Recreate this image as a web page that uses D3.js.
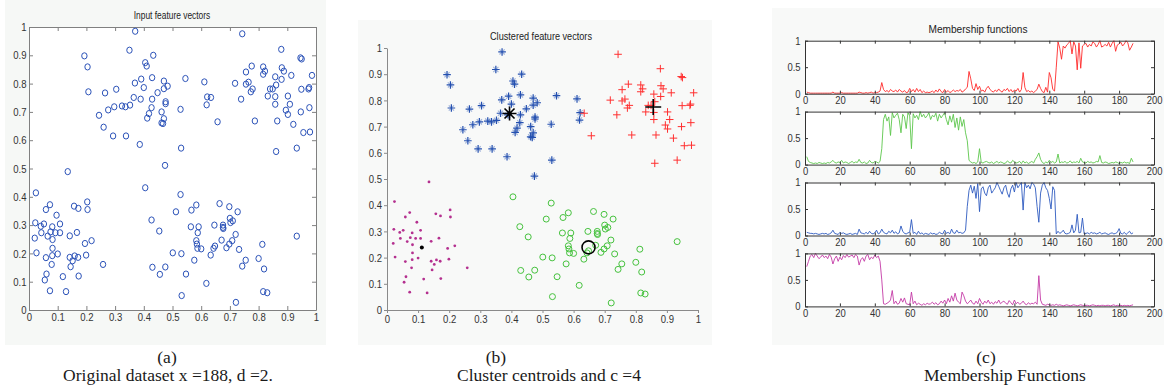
<!DOCTYPE html>
<html>
<head>
<meta charset="utf-8">
<script src="https://cdn.jsdelivr.net/npm/d3@7"></script>
<style>
  body { margin: 0; background: #fff; }
  svg { display: block; }
  .tick text { font-family: "Liberation Sans", Arial, sans-serif; fill: #333; }
  .ttl { font-family: "Liberation Sans", Arial, sans-serif; fill: #222; }
  .cap { font-family: "Liberation Serif", "Times New Roman", serif; fill: #1a1a1a; font-size: 17.5px; }
</style>
</head>
<body>
<svg id="fig" width="1164" height="392"></svg>
<script>
// feature vectors, grouped by the cluster they get in panel (b)
const magentaPts = [[0.024,0.414],[0.135,0.489],[0.022,0.308],[0.020,0.254],[0.026,0.202],[0.041,0.296],[0.043,0.273],[0.052,0.304],[0.055,0.106],[0.059,0.355],[0.059,0.185],[0.061,0.127],[0.065,0.261],[0.073,0.372],[0.073,0.068],[0.075,0.276],[0.081,0.294],[0.082,0.249],[0.082,0.218],[0.079,0.161],[0.081,0.192],[0.092,0.273],[0.096,0.335],[0.100,0.198],[0.108,0.304],[0.108,0.273],[0.118,0.118],[0.129,0.065],[0.142,0.262],[0.142,0.186],[0.145,0.153],[0.152,0.174],[0.157,0.367],[0.159,0.191],[0.167,0.274],[0.172,0.359],[0.171,0.186],[0.173,0.120],[0.195,0.235],[0.199,0.194],[0.203,0.382],[0.204,0.355],[0.218,0.245],[0.258,0.161]];
const greenPts = [[0.405,0.432],[0.427,0.318],[0.430,0.151],[0.454,0.279],[0.456,0.126],[0.475,0.152],[0.501,0.202],[0.512,0.347],[0.528,0.408],[0.531,0.199],[0.532,0.051],[0.547,0.127],[0.566,0.353],[0.564,0.294],[0.576,0.176],[0.583,0.371],[0.583,0.245],[0.585,0.233],[0.588,0.273],[0.591,0.294],[0.587,0.218],[0.600,0.216],[0.618,0.094],[0.633,0.194],[0.646,0.300],[0.643,0.218],[0.648,0.226],[0.664,0.376],[0.671,0.247],[0.676,0.300],[0.676,0.292],[0.677,0.288],[0.688,0.220],[0.698,0.365],[0.698,0.233],[0.700,0.324],[0.702,0.309],[0.710,0.315],[0.708,0.245],[0.720,0.267],[0.727,0.347],[0.721,0.027],[0.732,0.214],[0.743,0.155],[0.755,0.176],[0.800,0.182],[0.813,0.232],[0.819,0.145],[0.816,0.065],[0.830,0.061],[0.933,0.261]];
const bluePts = [[0.193,0.898],[0.204,0.859],[0.207,0.771],[0.244,0.688],[0.260,0.646],[0.265,0.767],[0.276,0.707],[0.293,0.615],[0.297,0.718],[0.304,0.780],[0.324,0.721],[0.336,0.718],[0.338,0.615],[0.350,0.918],[0.352,0.724],[0.365,0.751],[0.369,0.802],[0.370,0.985],[0.386,0.585],[0.389,0.745],[0.391,0.816],[0.400,0.786],[0.405,0.874],[0.410,0.862],[0.412,0.678],[0.418,0.694],[0.427,0.715],[0.429,0.745],[0.429,0.821],[0.433,0.900],[0.448,0.768],[0.462,0.700],[0.462,0.661],[0.467,0.659],[0.470,0.676],[0.470,0.809],[0.470,0.782],[0.476,0.736],[0.476,0.729],[0.483,0.791],[0.474,0.511],[0.528,0.709],[0.530,0.572],[0.545,0.818],[0.611,0.806],[0.619,0.725],[0.621,0.753]];
const redPts = [[0.634,0.751],[0.657,0.665],[0.718,0.801],[0.739,0.745],[0.743,0.976],[0.756,0.841],[0.756,0.798],[0.765,0.805],[0.773,0.771],[0.776,0.862],[0.779,0.781],[0.787,0.668],[0.816,0.859],[0.816,0.833],[0.822,0.844],[0.832,0.756],[0.840,0.781],[0.849,0.781],[0.858,0.824],[0.858,0.754],[0.858,0.727],[0.861,0.795],[0.861,0.560],[0.865,0.668],[0.879,0.921],[0.880,0.815],[0.881,0.856],[0.888,0.844],[0.895,0.706],[0.902,0.691],[0.902,0.756],[0.909,0.727],[0.914,0.829],[0.921,0.656],[0.933,0.572],[0.946,0.891],[0.950,0.887],[0.947,0.700],[0.949,0.780],[0.956,0.627],[0.974,0.781],[0.976,0.786],[0.977,0.715],[0.979,0.629],[0.986,0.829]];

// cluster centres in panel (b)
const centreStar = [0.394, 0.750];   // blue cluster
const centrePlus = [0.856, 0.775];   // red cluster
const centreRing = [0.648, 0.239];   // green cluster
const centreDot  = [0.112, 0.239];   // magenta cluster

// membership of each of the 188 vectors (index 1..188)
const memRed = [.03,.02,.01,.01,.01,.01,.01,.01,.01,.01, .01,.01,.01,.01,.01,.03,.01,.01,.01,.01, .02,.01,.01,.01,.01,.01,.01,.01,.01,.01, .03,.02,.01,.01,.02,.01,.02,.03,.01,.02,
  .02,.03,.05,.21,.08,.04,.06,.03,.08,.05, .04,.07,.03,.08,.05,.03,.06,.02,.03,.1, .04,.08,.03,.1,.04,.08,.02,.05,.02,.03, .02,.03,.05,.02,.07,.03,.09,.04,.02,.08,
  .03,.06,.02,.04,.07,.04,.06,.05,.08,.03, .05,.09,.12,.42,.28,.1,.06,.19,.08,.14, .05,.07,.03,.1,.14,.08,.05,.03,.07,.04, .09,.05,.03,.08,.06,.1,.04,.08,.03,.07,
  .05,.1,.03,.08,.4,.12,.04,.06,.03,.05, .02,.05,.08,.18,.1,.04,.02,.12,.03,.4, .3,.08,.05,.5,.98,.86,.65,.9,.86,.92, .95,1,.75,.98,.9,.45,.96,.48,.9,.93,
  .95,.88,.93,.9,.98,.95,.88,.93,1,.88, .9,.93,.9,.97,.88,.95,1,.8,.92,.94, .97,.9,.94,1,.96,.82,.88,.95];
const memGreen = [.15,.06,.04,.03,.02,.03,.02,.04,.03,.02, .03,.02,.04,.03,.05,.08,.04,.03,.05,.04, .08,.03,.05,.04,.02,.04,.06,.03,.05,.04, .1,.04,.03,.05,.02,.03,.08,.04,.03,.06,
  .05,.03,.06,.3,.85,.95,.82,.9,.55,.98, .88,.93,.97,.85,.6,.95,.9,.68,.98,.92, .3,.96,.88,.93,.85,1,.9,.95,.88,.92, .98,.85,.93,.9,.97,.82,.95,.88,.93,.98,
  .85,.75,.92,.8,.95,.7,.88,.65,.9,.72, .85,.6,.45,.08,.05,.03,.04,.02,.05,.3, .04,.03,.05,.06,.04,.03,.05,.02,.04,.06, .03,.05,.04,.02,.03,.07,.04,.03,.08,.05,
  .03,.04,.06,.02,.07,.03,.05,.02,.04,.06, .03,.1,.15,.22,.1,.04,.02,.05,.03,.08, .04,.06,.03,.05,.2,.03,.05,.04,.06,.03, .04,.07,.03,.05,.04,.06,.03,.12,.05,.04,
  .03,.06,.04,.05,.03,.04,.06,.05,.17,.04, .03,.05,.04,.02,.03,.04,.03,.05,.04,.02, .04,.03,.05,.03,.04,.02,.12,.05];
const memBlue = [.06,.05,.04,.04,.03,.04,.03,.02,.03,.04, .03,.04,.02,.03,.05,.1,.04,.03,.02,.06, .04,.05,.03,.02,.03,.04,.02,.03,.04,.02, .12,.05,.04,.03,.06,.03,.08,.04,.03,.05,
  .1,.03,.05,.12,.06,.04,.03,.08,.05,.1, .04,.07,.03,.05,.18,.08,.04,.03,.05,.06, .3,.04,.06,.02,.08,.03,.05,.02,.04,.03, .02,.05,.03,.04,.02,.03,.06,.04,.03,.1,
  .04,.06,.03,.12,.05,.04,.1,.05,.06,.04, .05,.1,.55,.85,.95,.8,.93,.7,.98,.45, .88,.92,.8,.75,.9,.95,.8,.85,.9,1, .93,.85,.78,.9,.95,.8,.72,.88,.95,.82,
  1,.9,.95,1,.48,1,.9,.95,.88,1, .97,.9,.55,.25,.8,.95,1,.9,.85,.7, .5,.92,.85,.03,.08,.04,.06,.1,.04,.03, .04,.06,.2,.05,.1,.4,.05,.06,.33,.03,
  .04,.05,.03,.06,.04,.05,.03,.04,.06,.03, .04,.05,.03,.02,.04,.05,.03,.04,.06,.13, .04,.03,.06,.02,.05,.08,.03,.05];
const memMagenta = [.75,.85,.95,.98,.92,1,.95,.9,.93,.97, .92,.95,.9,.98,.93,.8,.9,.95,.85,.93, .88,.96,.92,.98,.93,.95,.97,.92,.98,.95, .78,.88,.92,.85,.95,.98,.88,.93,.9,.97,
  .92,.95,.85,.5,.05,.04,.06,.08,.12,.3, .05,.1,.04,.06,.15,.08,.16,.05,.04,.03, .27,.05,.1,.03,.06,.04,.02,.05,.03,.06, .04,.05,.08,.04,.07,.03,.05,.1,.06,.12,
  .05,.15,.08,.2,.1,.25,.12,.08,.05,.27, .2,.1,.05,.08,.12,.06,.04,.1,.05,.15, .08,.04,.1,.06,.12,.05,.08,.04,.09,.06, .12,.05,.08,.1,.06,.04,.11,.07,.03,.12,
  .05,.08,.04,.06,.1,.05,.03,.07,.04,.06, .05,.08,.04,.58,.12,.04,.03,.02,.04,.03, .02,.03,.02,.04,.02,.03,.02,.01,.02,.03, .02,.01,.02,.03,.02,.01,.02,.03,.02,.01,
  .02,.02,.01,.02,.03,.02,.01,.02,.01,.02, .02,.01,.02,.02,.01,.02,.03,.01,.02,.01, .02,.01,.02,.01,.02,.01,.02,.03];

const unitTicks = [0,0.1,0.2,0.3,0.4,0.5,0.6,0.7,0.8,0.9,1];
const memXTicks = [0,20,40,60,80,100,120,140,160,180,200];
const memYTicks = [0,0.5,1];

const svg = d3.select("#fig");
const fmt = d => String(+d.toFixed(1));

// light figure backgrounds
svg.append("rect").attr("x", 5).attr("y", 0).attr("width", 321).attr("height", 345).attr("fill", "#f6f8f6");
svg.append("rect").attr("x", 358).attr("y", 20).attr("width", 354).attr("height", 325).attr("fill", "#f8f9f8");
svg.append("rect").attr("x", 772).attr("y", 8).attr("width", 392).attr("height", 337).attr("fill", "#f8f9f8");

function styleAxis(g, col, size, sx) {
  g.select(".domain").attr("stroke", col);
  g.selectAll(".tick line").attr("stroke", col);
  g.selectAll("text").attr("font-size", size).attr("transform", `scale(${sx},1)`);
}

// narrow-ish title: squeeze horizontally like the original rendering
function title(x, y, size, sx, txt) {
  svg.append("text").attr("class", "ttl")
    .attr("transform", `translate(${x},${y}) scale(${sx},1)`)
    .attr("text-anchor", "middle").attr("font-size", size).text(txt);
}

// ---------- (a) input feature vectors ----------
const xA = d3.scaleLinear().domain([0, 1]).range([29, 316]);
const yA = d3.scaleLinear().domain([0, 1]).range([310, 27]);
svg.append("rect").attr("x", 29).attr("y", 27).attr("width", 287).attr("height", 283).attr("fill", "#fff");

const axA = [
  svg.append("g").attr("transform", "translate(0,310)").call(d3.axisBottom(xA).tickValues(unitTicks).tickFormat(fmt).tickSize(-4).tickSizeOuter(0).tickPadding(3)),
  svg.append("g").attr("transform", "translate(29,0)").call(d3.axisLeft(yA).tickValues(unitTicks).tickFormat(fmt).tickSize(-4).tickSizeOuter(0).tickPadding(3)),
  svg.append("g").attr("transform", "translate(0,27)").call(d3.axisTop(xA).tickValues(unitTicks).tickFormat("").tickSize(-4).tickSizeOuter(0)),
  svg.append("g").attr("transform", "translate(316,0)").call(d3.axisRight(yA).tickValues(unitTicks).tickFormat("").tickSize(-4).tickSizeOuter(0))
];
axA.forEach(g => styleAxis(g, "#808080", 11.5, 0.83));

const allPts = magentaPts.concat(greenPts, bluePts, redPts);
svg.append("g").selectAll("ellipse").data(allPts).enter().append("ellipse")
  .attr("cx", d => xA(d[0])).attr("cy", d => yA(d[1]))
  .attr("rx", 2.7).attr("ry", 3.1)
  .attr("fill", "none").attr("stroke", "#2b52b8").attr("stroke-width", 1);

title(172, 19, 10, 0.84, "Input feature vectors");
svg.append("text").attr("class", "cap").attr("x", 167).attr("y", 363).attr("text-anchor", "middle").text("(a)");
svg.append("text").attr("class", "cap").attr("x", 168).attr("y", 381).attr("text-anchor", "middle").text("Original dataset x =188, d =2.");

// ---------- (b) clustered feature vectors ----------
const xB = d3.scaleLinear().domain([0, 1]).range([387, 698]);
const yB = d3.scaleLinear().domain([0, 1]).range([310, 48]);

const axB = [
  svg.append("g").attr("transform", "translate(0,310)").call(d3.axisBottom(xB).tickValues(unitTicks).tickFormat(fmt).tickSize(3).tickSizeOuter(0).tickPadding(2)),
  svg.append("g").attr("transform", "translate(387,0)").call(d3.axisLeft(yB).tickValues(unitTicks).tickFormat(fmt).tickSize(3).tickSizeOuter(0).tickPadding(3))
];
axB.forEach(g => styleAxis(g, "#8a8a8a", 11.5, 0.83));

function plusPath(s) { return `M${-s},0H${s}M0,${-s}V${s}`; }
function crossPath(k) { return `M${-k},${-k}L${k},${k}M${-k},${k}L${k},${-k}`; }

// blue '*' markers: strong plus with a faint diagonal cross
const blueG = svg.append("g").selectAll("g").data(bluePts).enter().append("g")
  .attr("transform", d => `translate(${xB(d[0])},${yB(d[1])})`);
blueG.append("path").attr("d", crossPath(2.6)).attr("fill", "none").attr("stroke", "#2450b0").attr("stroke-width", 1.2).attr("opacity", 0.4);
blueG.append("path").attr("d", plusPath(3.8)).attr("fill", "none").attr("stroke", "#2450b0").attr("stroke-width", 1.2);

svg.append("g").selectAll("path").data(redPts).enter().append("path")
  .attr("transform", d => `translate(${xB(d[0])},${yB(d[1])})`)
  .attr("d", plusPath(3.8)).attr("fill", "none").attr("stroke", "#ff3030").attr("stroke-width", 1);
svg.append("g").selectAll("circle").data(greenPts).enter().append("circle")
  .attr("cx", d => xB(d[0])).attr("cy", d => yB(d[1])).attr("r", 3)
  .attr("fill", "none").attr("stroke", "#46c23e").attr("stroke-width", 1);
svg.append("g").selectAll("circle").data(magentaPts).enter().append("circle")
  .attr("cx", d => xB(d[0])).attr("cy", d => yB(d[1])).attr("r", 1.4)
  .attr("fill", "#b4308f");

// centroids
svg.append("path").attr("transform", `translate(${xB(centreStar[0])},${yB(centreStar[1])})`)
  .attr("d", plusPath(7) + crossPath(5)).attr("fill", "none").attr("stroke", "#000").attr("stroke-width", 1.6);
svg.append("path").attr("transform", `translate(${xB(centrePlus[0])},${yB(centrePlus[1])})`)
  .attr("d", plusPath(8)).attr("fill", "none").attr("stroke", "#000").attr("stroke-width", 1.6);
svg.append("circle").attr("cx", xB(centreRing[0])).attr("cy", yB(centreRing[1])).attr("r", 6.5)
  .attr("fill", "none").attr("stroke", "#000").attr("stroke-width", 1.6);
svg.append("circle").attr("cx", xB(centreDot[0])).attr("cy", yB(centreDot[1])).attr("r", 2).attr("fill", "#000");

title(541, 40, 10.5, 0.87, "Clustered feature vectors");
svg.append("text").attr("class", "cap").attr("x", 496).attr("y", 363).attr("text-anchor", "middle").text("(b)");
svg.append("text").attr("class", "cap").attr("x", 549).attr("y", 381).attr("text-anchor", "middle").text("Cluster centroids and c =4");

// ---------- (c) membership functions ----------
const xC = d3.scaleLinear().domain([0, 200]).range([805, 1154]);
const memSeries = [memRed, memGreen, memBlue, memMagenta];
const memColors = ["#ff2a2a", "#5cc64c", "#2e5ac0", "#c43aa6"];
const subTop = 40.7, subH = 53, subStep = 70.9;

memSeries.forEach((vals, i) => {
  const top = subTop + i * subStep;
  const yC = d3.scaleLinear().domain([0, 1]).range([top + subH, top]);
  svg.append("rect").attr("x", 805).attr("y", top).attr("width", 349).attr("height", subH).attr("fill", "#fff");
  const line = d3.line().x((d, j) => xC(j + 1)).y(d => yC(d));
  svg.append("path").datum(vals).attr("d", line)
    .attr("fill", "none").attr("stroke", memColors[i]).attr("stroke-width", 0.9);
  const gs = [
    svg.append("g").attr("transform", `translate(0,${top + subH})`).call(d3.axisBottom(xC).tickValues(memXTicks).tickSize(-3).tickSizeOuter(0).tickPadding(3)),
    svg.append("g").attr("transform", "translate(805,0)").call(d3.axisLeft(yC).tickValues(memYTicks).tickFormat(d => String(d)).tickSize(-3).tickSizeOuter(0).tickPadding(5)),
    svg.append("g").attr("transform", `translate(0,${top})`).call(d3.axisTop(xC).tickValues(memXTicks).tickFormat("").tickSize(-3).tickSizeOuter(0)),
    svg.append("g").attr("transform", "translate(1154,0)").call(d3.axisRight(yC).tickValues(memYTicks).tickFormat("").tickSize(-3).tickSizeOuter(0))
  ];
  gs.forEach(g => styleAxis(g, "#333", 10.5, 0.9));
});

title(978, 33, 11.5, 0.88, "Membership functions");
svg.append("text").attr("class", "cap").attr("x", 986).attr("y", 363).attr("text-anchor", "middle").text("(c)");
svg.append("text").attr("class", "cap").attr("x", 1005).attr("y", 381).attr("text-anchor", "middle").text("Membership Functions");
</script>
</body>
</html>
